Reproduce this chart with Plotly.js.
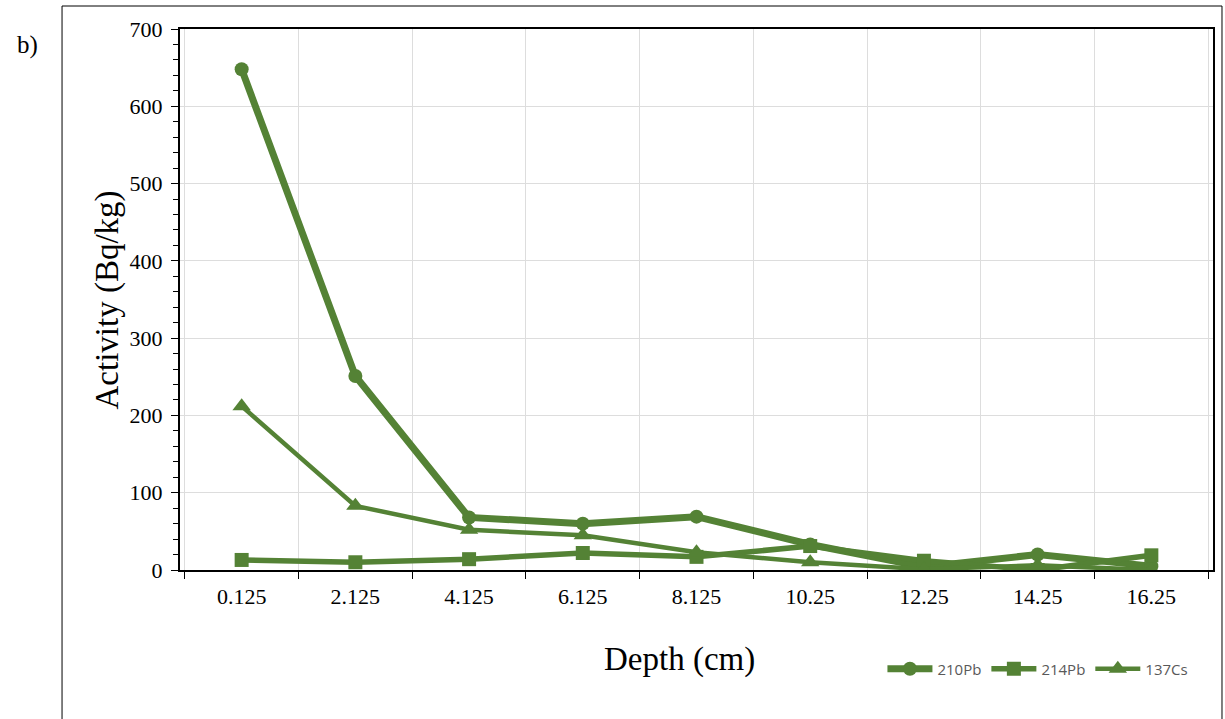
<!DOCTYPE html>
<html>
<head>
<meta charset="utf-8">
<script src="https://cdn.plot.ly/plotly-3.0.1.min.js"></script>
<style>
html,body{margin:0;padding:0;background:#fff;}
#chart{width:1225px;height:719px;}
</style>
</head>
<body>
<div id="chart"></div>
<script>
const depths = ["0.125","2.125","4.125","6.125","8.125","10.25","12.25","14.25","16.25"];
const pb210 = [648, 251, 68, 60, 69, 33, 4, 20, 5];
const pb214 = [13, 10, 14, 22, 17, 31, 12, 0, 19];
const cs137 = [212, 83, 52, 45, 23, 10, 1, 6, 0];
const yTicks = [0, 100, 200, 300, 400, 500, 600, 700];

const green = "#548235";

const traces = [
  {x: depths, y: pb210, name: "210Pb", type: "scatter", mode: "lines+markers",
   line: {color: green, width: 7}, marker: {symbol: "circle", size: 14, color: green}},
  {x: depths, y: pb214, name: "214Pb", type: "scatter", mode: "lines+markers",
   line: {color: green, width: 5.5}, marker: {symbol: "square", size: 14, color: green}},
  {x: depths, y: cs137, name: "137Cs", type: "scatter", mode: "lines+markers",
   line: {color: green, width: 4.5}, marker: {symbol: "triangle-up", size: 16, color: green}}
];

const serif = "Liberation Serif, Times New Roman, serif";

const layout = {
  width: 1225, height: 719,
  margin: {l: 180, r: 12, t: 29, b: 149},
  paper_bgcolor: "#fff", plot_bgcolor: "#fff",
  showlegend: true,
  legend: {orientation: "h", x: 0.68, xanchor: "left", y: -0.183, yanchor: "middle",
           font: {family: "Open Sans, Liberation Sans, sans-serif", size: 15, color: "#595959"},
           itemwidth: 45, tracegroupgap: 0, bgcolor: "rgba(0,0,0,0)"},
  xaxis: {
    type: "category", tickson: "boundaries",
    showline: true, linecolor: "#000", linewidth: 2, mirror: true,
    ticks: "outside", ticklen: 7, tickcolor: "#000", tickwidth: 1,
    ticklabelstandoff: 6,
    showgrid: true, gridcolor: "#dddddd", gridwidth: 1,
    tickfont: {family: serif, size: 22, color: "#000"},
    fixedrange: true, zeroline: false
  },
  yaxis: {
    range: [0, 700], tickvals: yTicks, ticktext: yTicks.map(String),
    showline: true, linecolor: "#000", linewidth: 2, mirror: true,
    ticks: "outside", ticklen: 7, tickcolor: "#000", tickwidth: 1,
    ticklabelstandoff: 4,
    minor: {dtick: 20, ticks: "outside", ticklen: 5, tickcolor: "#000", showgrid: false},
    showgrid: true, gridcolor: "#dddddd", gridwidth: 1,
    tickfont: {family: serif, size: 22, color: "#000"},
    zeroline: false, fixedrange: true
  },
  shapes: [
    {type: "rect", xref: "paper", yref: "paper", x0: -0.1142, x1: 1.0087, y0: -0.32, y1: 1.0425,
     line: {color: "#000", width: 1}, fillcolor: "rgba(0,0,0,0)", layer: "below"}
  ],
  annotations: [
    {text: "b)", xref: "paper", yref: "paper", x: -0.148, y: 0.97, xanchor: "center", yanchor: "middle",
     showarrow: false, font: {family: serif, size: 25, color: "#000"}},
    {text: "Depth (cm)", xref: "paper", yref: "paper", x: 0.484, y: -0.166, xanchor: "center", yanchor: "middle",
     showarrow: false, font: {family: serif, size: 33, color: "#000"}},
    {text: "Activity (Bq/kg)", xref: "paper", yref: "paper", x: -0.0697, y: 0.5, xanchor: "center", yanchor: "middle",
     textangle: -90, showarrow: false, font: {family: serif, size: 33, color: "#000"}}
  ]
};

Plotly.newPlot("chart", traces, layout, {displayModeBar: false, staticPlot: true});
</script>
</body>
</html>
